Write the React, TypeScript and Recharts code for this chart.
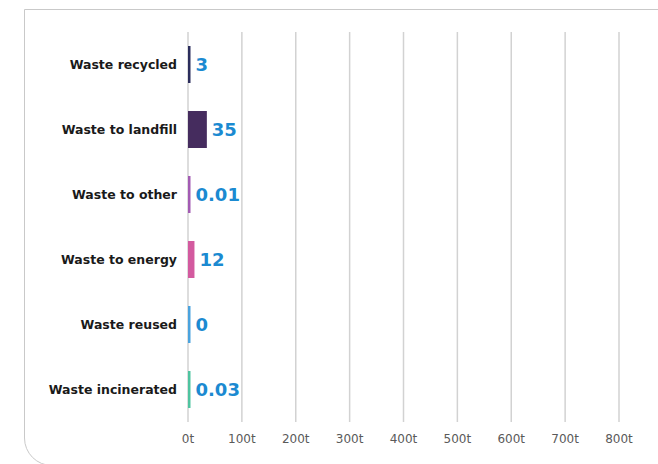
import React from "react";
import { BarChart, Bar, XAxis, YAxis, CartesianGrid, Cell, LabelList } from "recharts";

const categories = ["Waste recycled", "Waste to landfill", "Waste to other", "Waste to energy", "Waste reused", "Waste incinerated"];
const values = [3, 35, 0.01, 12, 0, 0.03];
const valueLabels = ["3", "35", "0.01", "12", "0", "0.03"];
const colors = ["#2b2d5c", "#452c5e", "#a35bb3", "#d35a9f", "#4aa3de", "#4fc4a0"];
const xTicks = [0, 100, 200, 300, 400, 500, 600, 700, 800];

const data = categories.map((c, i) => ({ name: c, value: values[i], label: valueLabels[i] }));

export default function App() {
  return (
    <div style={{ position: "absolute", left: 0, top: 0, width: 658, height: 464, overflow: "hidden", background: "#fff" }}>
      <div
        style={{
          position: "absolute",
          left: 24,
          top: 9,
          width: 660,
          height: 457,
          border: "1.5px solid #c9c9c9",
          borderRadius: "0 26px 26px 28px",
          boxSizing: "border-box",
        }}
      />
      <div style={{ position: "absolute", left: 0, top: 0 }}>
        <BarChart
          width={658}
          height={464}
          data={data}
          layout="vertical"
          margin={{ top: 32, right: 39, bottom: 0, left: 0 }}
          barCategoryGap={14}
        >
          <CartesianGrid horizontal={false} stroke="#d2d2d2" strokeWidth={1.5} />
          <XAxis
            type="number"
            domain={[0, 800]}
            ticks={xTicks}
            tickFormatter={(v) => `${v}t`}
            axisLine={false}
            tickLine={false}
            height={42}
            tickMargin={6}
            tick={{ fill: "#5a5a5a", fontSize: 12, fontFamily: "DejaVu Sans" }}
          />
          <YAxis
            type="category"
            dataKey="name"
            width={188}
            axisLine={false}
            tickLine={false}
            tickMargin={5}
            tick={{ fill: "#1a1a1a", fontSize: 12.5, fontWeight: 700, fontFamily: "DejaVu Sans" }}
          />
          <Bar dataKey="value" isAnimationActive={false} minPointSize={2.5}>
            {data.map((d, i) => (
              <Cell key={i} fill={colors[i]} />
            ))}
            <LabelList
              dataKey="label"
              position="right"
              offset={5}
              style={{ fill: "#1b8ad1", fontSize: 18, fontWeight: 700, fontFamily: "DejaVu Sans" }}
            />
          </Bar>
        </BarChart>
      </div>
    </div>
  );
}
